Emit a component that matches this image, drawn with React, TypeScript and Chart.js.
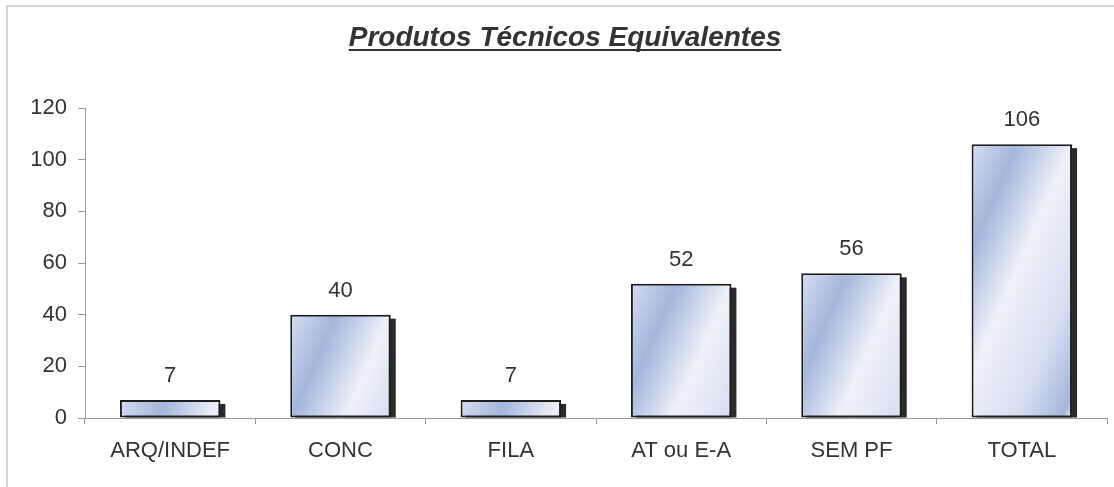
import React, { useEffect, useRef } from "react";
import { Chart, registerables } from "chart.js";

Chart.register(...registerables);

const categories = ["ARQ/INDEF", "CONC", "FILA", "AT ou E-A", "SEM PF", "TOTAL"];
const values = [7, 40, 7, 52, 56, 106];
const yTicks = [0, 20, 40, 60, 80, 100, 120];
const title = "Produtos Técnicos Equivalentes";

const FONT = "Arial, 'Liberation Sans', sans-serif";

// one stripe cycle along the gradient direction (offset in px, colour)
const stripe: [number, string][] = [
  [0, "#d6def1"],
  [42, "#a4b6dc"],
  [92, "#eef1f9"],
  [150, "#d6def1"],
];

const barStylePlugin = {
  id: "barStyle",
  beforeDatasetsDraw(chart: any) {
    const ctx = chart.ctx;
    const meta = chart.getDatasetMeta(0);
    meta.data.forEach((el: any) => {
      const { x, y, base, width } = el.getProps(["x", "y", "base", "width"], true);
      const left = x - width / 2;
      const h = base - y;
      // shadow
      ctx.save();
      ctx.fillStyle = "#2a2a2a";
      ctx.fillRect(left + 5, y + 4, width, h - 4);
      ctx.restore();
      // diagonal stripes
      const dx = 2.3, dy = 1;
      const n = Math.sqrt(dx * dx + dy * dy);
      const ux = dx / n, uy = dy / n;
      const ext = width * ux + h * uy;
      const g = ctx.createLinearGradient(left, y, left + ux * ext, y + uy * ext);
      const period = stripe[stripe.length - 1][0];
      let done = false;
      for (let c = 0; !done; c++) {
        for (let k = 0; k < stripe.length - 1; k++) {
          const d = c * period + stripe[k][0];
          if (d > ext) {
            g.addColorStop(1, stripe[k][1]);
            done = true;
            break;
          }
          g.addColorStop(d / ext, stripe[k][1]);
        }
      }
      el.options = { ...el.options, backgroundColor: g };
    });
  },
  afterDatasetsDraw(chart: any) {
    const ctx = chart.ctx;
    const meta = chart.getDatasetMeta(0);
    ctx.save();
    ctx.font = `22px ${FONT}`;
    ctx.fillStyle = "#333";
    ctx.textAlign = "center";
    ctx.textBaseline = "alphabetic";
    meta.data.forEach((el: any, i: number) => {
      ctx.fillText(String(values[i]), el.x, el.y - 18);
    });
    ctx.restore();
  },
  afterDraw(chart: any) {
    const ctx = chart.ctx;
    ctx.save();
    ctx.strokeStyle = "#c8c8c8";
    ctx.lineWidth = 1.5;
    ctx.beginPath();
    ctx.moveTo(7, chart.height + 5);
    ctx.lineTo(7, 6);
    ctx.lineTo(chart.width + 5, 6);
    ctx.stroke();
    ctx.font = `italic bold 28px ${FONT}`;
    ctx.fillStyle = "#333";
    ctx.textAlign = "center";
    ctx.textBaseline = "alphabetic";
    const cx = chart.width / 2 + 8;
    const by = 46;
    ctx.fillText(title, cx, by);
    const w = ctx.measureText(title).width;
    ctx.fillRect(cx - w / 2, by + 3, w, 2);
    ctx.restore();
  },
};

export default function App() {
  const ref = useRef<HTMLCanvasElement>(null);
  useEffect(() => {
    document.body.style.margin = "0";
    const chart = new Chart(ref.current!, {
      type: "bar",
      data: {
        labels: categories,
        datasets: [
          {
            data: values,
            backgroundColor: "#c8d2ea",
            borderColor: "#1e1e1e",
            borderWidth: 2,
            borderSkipped: false,
            barPercentage: 1,
            categoryPercentage: 0.59,
          },
        ],
      },
      options: {
        animation: false,
        responsive: false,
        devicePixelRatio: 1,
        layout: { padding: { top: 108, right: 7, left: 0, bottom: 0 } },
        plugins: {
          legend: { display: false },
          tooltip: { enabled: false },
          title: { display: false },
        },
        scales: {
          x: {
            offset: true,
            grid: {
              offset: true,
              drawOnChartArea: false,
              color: "#9a9a9a",
              tickLength: 6,
            },
            border: { color: "#9a9a9a", width: 1 },
            ticks: {
              color: "#333",
              font: { family: FONT, size: 22 },
              padding: 14,
              maxRotation: 0,
            },
            afterFit: (s: any) => {
              s.height = 69;
            },
          },
          y: {
            min: 0,
            max: 120,
            afterBuildTicks: (s: any) => {
              s.ticks = yTicks.map((v) => ({ value: v }));
            },
            grid: {
              drawOnChartArea: false,
              color: "#9a9a9a",
              tickLength: 7,
            },
            border: { color: "#9a9a9a", width: 1 },
            ticks: {
              color: "#333",
              font: { family: FONT, size: 22 },
              padding: 11,
            },
            afterFit: (s: any) => {
              s.width = 85;
            },
          },
        },
      },
      plugins: [barStylePlugin],
    });
    return () => chart.destroy();
  }, []);
  return (
    <div style={{ width: 1114, height: 487, background: "#fff" }}>
      <canvas ref={ref} width={1114} height={487} />
    </div>
  );
}
